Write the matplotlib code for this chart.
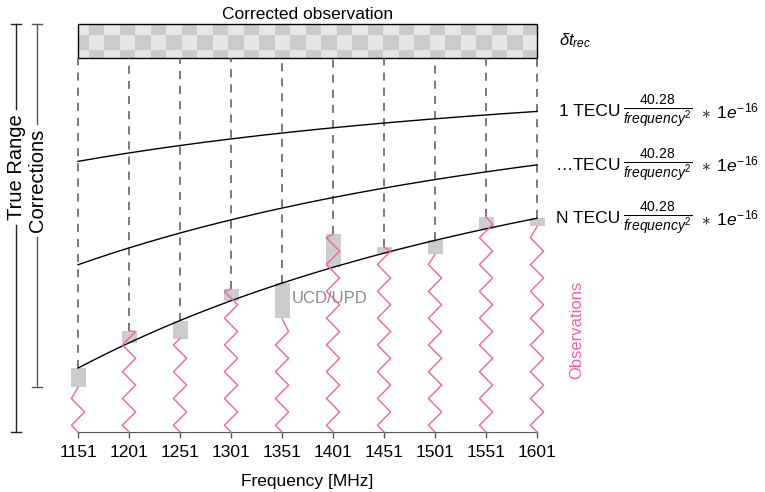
import numpy as np
import matplotlib
matplotlib.use('Agg')
import matplotlib.pyplot as plt
from matplotlib.patches import Rectangle

plt.rcParams['font.family'] = ['Liberation Sans', 'DejaVu Sans']
plt.rcParams['mathtext.fontset'] = 'custom'
plt.rcParams['mathtext.rm'] = 'Liberation Sans'
plt.rcParams['mathtext.it'] = 'Liberation Sans:italic'
plt.rcParams['mathtext.bf'] = 'Liberation Sans:bold'

# frecuencias de las observaciones [MHz]
FREQ = [1151, 1201, 1251, 1301, 1351, 1401, 1451, 1501, 1551, 1601]
# niveles de TEC dibujados y su etiqueta
TEC_LEVELS = [1, 2, 3]
TEC_NAMES = ['1 TECU', r'$\ldots$TECU', 'N TECU']
# sesgo UCD/UPD de cada observacion respecto a la curva N [m]
BIAS = [-0.056, 0.035, -0.053, 0.035, -0.104, 0.097, 0.018, -0.041, 0.035, -0.024]

RANGO_REAL = 1.10   # nivel de la observacion corregida
ALTO_CAJA = 0.10

ROSA = '#f062a8'
GRIS_OSCURO = '#555555'

freq = np.array(FREQ, dtype=float)
bias = np.array(BIAS)


def retardo(f, tec):
    # 40.28 / f^2 * TEC * 1e16, con f en Hz -> metros
    return tec * 40.28e16 / (f * 1e6) ** 2


fig = plt.figure(figsize=(7.65, 4.92), dpi=100)
ax = fig.add_axes([0, 0, 1, 1])
ax.set_xlim(1074.5, 1824.5)
ax.set_ylim(-0.1765, 1.2706)
renderer = fig.canvas.get_renderer()
inv = ax.transData.inverted()

# caja a cuadros: observacion corregida
x0, x1 = freq[0], freq[-1]
y0, y1 = RANGO_REAL, RANGO_REAL + ALTO_CAJA
celda_x = 15.2
bordes_x = np.concatenate([[x0], np.arange(x0 + 10.5, x1, celda_x), [x1]])
bordes_y = np.array([y0, y0 + 0.0235, y0 + 0.0676, y1])
for i in range(len(bordes_y) - 1):
    for j in range(len(bordes_x) - 1):
        c = '#cbcbcb' if (i + j) % 2 == 1 else '#e6e6e6'
        ax.add_patch(Rectangle((bordes_x[j], bordes_y[i]),
                               bordes_x[j + 1] - bordes_x[j],
                               bordes_y[i + 1] - bordes_y[i],
                               facecolor=c, edgecolor='none', zorder=1))
ax.add_patch(Rectangle((x0, y0), x1 - x0, y1 - y0, facecolor='none',
                       edgecolor='black', lw=1.0, zorder=2))
ax.text((x0 + x1) / 2, 1.229, 'Corrected observation', ha='center',
        va='center', fontsize=12.5)
ax.text(x1 + 22, y0 + ALTO_CAJA / 2, r'$\delta t_{rec}$', ha='left',
        va='center', fontsize=12)


def etiqueta_derecha(x, y, partes):
    # coloca los trozos de derecha a izquierda, cada uno pegado al anterior
    for texto, tam, hueco in partes:
        t = ax.text(x, y, texto, ha='right', va='center', fontsize=tam)
        bb = t.get_window_extent(renderer)
        x = inv.transform((bb.x0 - hueco, bb.y0))[0]


# curvas de retardo ionosferico
f_fina = np.linspace(x0, x1, 200)
for tec, nombre in zip(TEC_LEVELS, TEC_NAMES):
    y_fin = RANGO_REAL - retardo(x1, tec)
    ax.plot(f_fina, RANGO_REAL - retardo(f_fina, tec), color='black', lw=1.0,
            zorder=3)
    etiqueta_derecha(1818.5, y_fin, [
        (r'$\ast\ \,1e^{-16}$', 12.5, 8),
        (r'$\frac{40.28}{frequency^2}$', 14.3, 3),
        (nombre, 12.5, 0),
    ])

curva_n = RANGO_REAL - retardo(freq, TEC_LEVELS[-1])
obs = curva_n + bias

# lineas discontinuas desde la caja hasta cada observacion
tope = np.maximum(curva_n, obs)
ax.vlines(freq, tope, RANGO_REAL, colors=GRIS_OSCURO, lw=1.1,
          linestyles=(0, (5.3, 4.6)), zorder=2)

# sesgos UCD/UPD
ax.bar(freq, bias, bottom=curva_n, width=14.7, color='#cccccc', zorder=2)
ax.text(freq[4] + 10, curva_n[4] + bias[4] / 2 + 0.008, 'UCD/UPD',
        ha='left', va='center', fontsize=12, color='#8c8c8c')

# observaciones en zigzag
ancho_zz = 6.5
cuarto = 0.0197
for f, h in zip(freq, obs):
    ys = [0.0]
    xs = [f]
    k = 0
    while cuarto * (2 * k + 1) < h:
        ys.append(cuarto * (2 * k + 1))
        xs.append(f - ancho_zz if k % 2 == 0 else f + ancho_zz)
        k += 1
    ys.append(h)
    xs.append(f)
    ax.plot(xs, ys, color=ROSA, lw=1.0, zorder=4)
ax.text(1640, 0.30, 'Observations', rotation=90, ha='center', va='center',
        fontsize=12, color=ROSA)


# corchetes de la izquierda, con la linea cortada alrededor del texto
def corchete(x, ya, yb, texto, yt, color):
    t = ax.text(x, yt, texto, rotation=90, ha='center', va='center',
                fontsize=14.5)
    bb = t.get_window_extent(renderer)
    corte_a = inv.transform((0, bb.y0 - 5))[1]
    corte_b = inv.transform((0, bb.y1 + 5))[1]
    ax.plot([x, x], [ya, corte_a], color=color, lw=1.0)
    ax.plot([x, x], [corte_b, yb], color=color, lw=1.0)
    ax.plot([x - 4.5, x + 4.5], [ya, ya], color=color, lw=1.0)
    ax.plot([x - 4.5, x + 4.5], [yb, yb], color=color, lw=1.0)


corchete(1090.2, 0.0, y1, 'True Range', 0.78, '#222222')
corchete(1110.8, obs[0], y1, 'Corrections', 0.74, GRIS_OSCURO)

# eje de frecuencias
for lado in ['top', 'right', 'left']:
    ax.spines[lado].set_visible(False)
ax.spines['bottom'].set_position(('data', 0))
ax.spines['bottom'].set_bounds(x0, x1)
ax.spines['bottom'].set_color(GRIS_OSCURO)
ax.set_xticks(FREQ)
ax.set_xticklabels([str(f) for f in FREQ])
ax.tick_params(axis='x', direction='out', length=4.5, width=1.0,
               color=GRIS_OSCURO, labelsize=12.5, pad=5)
ax.set_yticks([])
ax.text((x0 + x1) / 2, -0.147, 'Frequency [MHz]', ha='center', va='center',
        fontsize=12.5)

fig.savefig('out.png', dpi=100)
